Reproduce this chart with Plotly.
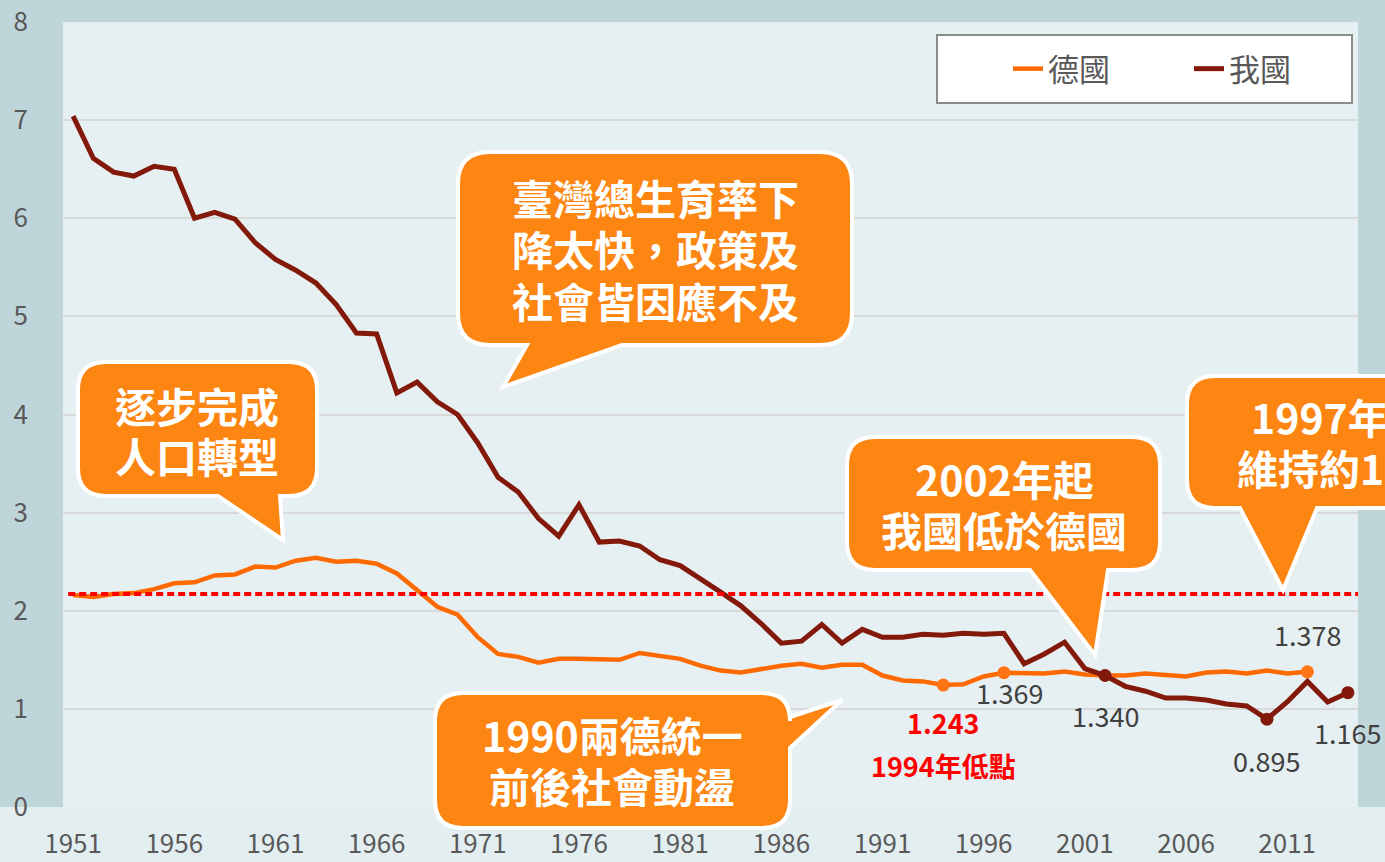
import plotly.graph_objects as go

# total fertility rate, Taiwan (我國) 1951-2014 and Germany (德國) 1951-2012
years = list(range(1951, 2015))
taiwan = [7.04, 6.61, 6.47, 6.43, 6.53, 6.50, 6.00, 6.06, 5.99, 5.75,
          5.58, 5.47, 5.34, 5.12, 4.83, 4.82, 4.22, 4.33, 4.13, 4.00,
          3.71, 3.36, 3.21, 2.94, 2.76, 3.08, 2.70, 2.71, 2.66, 2.52,
          2.46, 2.33, 2.19, 2.05, 1.87, 1.67, 1.69, 1.86, 1.67, 1.81,
          1.73, 1.73, 1.76, 1.75, 1.77, 1.76, 1.77, 1.46, 1.56, 1.68,
          1.41, 1.340, 1.23, 1.18, 1.11, 1.11, 1.09, 1.05, 1.03, 0.895,
          1.07, 1.28, 1.07, 1.165]
germany = [2.16, 2.14, 2.17, 2.18, 2.22, 2.28, 2.29, 2.36, 2.37, 2.45,
           2.44, 2.51, 2.54, 2.50, 2.51, 2.48, 2.38, 2.21, 2.04, 1.96,
           1.73, 1.56, 1.53, 1.47, 1.51, 1.51, 1.50, 1.50, 1.57, 1.54,
           1.51, 1.44, 1.39, 1.37, 1.41, 1.44, 1.46, 1.42, 1.45, 1.45,
           1.34, 1.29, 1.28, 1.243, 1.25, 1.33, 1.369, 1.36, 1.36, 1.38,
           1.35, 1.34, 1.34, 1.36, 1.34, 1.33, 1.37, 1.38, 1.36, 1.39,
           1.36, 1.378]
germany_years = years[:len(germany)]
germany_marks = [1994, 1997, 2012]
taiwan_marks = [2002, 2010, 2014]
replacement_level = 2.17
tick_years = list(range(1951, 2015, 5))

FONT = "Noto Sans CJK TC"
ORANGE_LINE = "#ff6a00"
DARK_RED = "#82190a"
CALLOUT = "#fd8512"

# plot area in pixels (for placing the speech bubbles)
W, H = 1385, 862
L, R, T, B = 63, 1358, 22, 807


def px(x, y):
    return (x - L) / (R - L), (B - y) / (B - T)


def bubble(x0, y0, x1, y1, r, side, tail):
    """rounded box with a pointer, built in pixels and converted to paper coords"""
    pts = [("M", [(x0 + r, y0)]), ("L", [(x1 - r, y0)]), ("Q", [(x1, y0), (x1, y0 + r)])]
    if side == "right":
        pts += [("L", [p]) for p in tail]
    pts += [("L", [(x1, y1 - r)]), ("Q", [(x1, y1), (x1 - r, y1)])]
    if side == "bottom":
        pts += [("L", [p]) for p in tail]
    pts += [("L", [(x0 + r, y1)]), ("Q", [(x0, y1), (x0, y1 - r)]),
            ("L", [(x0, y0 + r)]), ("Q", [(x0, y0), (x0 + r, y0)])]
    d = ""
    for cmd, ps in pts:
        d += cmd + " " + " ".join("%.5f,%.5f" % px(*p) for p in ps) + " "
    return dict(type="path", path=d + "Z", xref="paper", yref="paper",
                fillcolor=CALLOUT, line=dict(color="white", width=4), layer="above")


fig = go.Figure()
fig.add_trace(go.Scatter(x=germany_years, y=germany, mode="lines", name="德國",
                         line=dict(color=ORANGE_LINE, width=4.5)))
fig.add_trace(go.Scatter(x=years, y=taiwan, mode="lines", name="我國",
                         line=dict(color=DARK_RED, width=5)))
fig.add_trace(go.Scatter(x=germany_marks, y=[germany[germany_years.index(y)] for y in germany_marks],
                         mode="markers", showlegend=False, marker=dict(color="#ff7414", size=13)))
fig.add_trace(go.Scatter(x=taiwan_marks, y=[taiwan[years.index(y)] for y in taiwan_marks],
                         mode="markers", showlegend=False, marker=dict(color=DARK_RED, size=13)))

shapes = [
    # light strip under the plot
    dict(type="rect", xref="paper", yref="paper", x0=px(0, 0)[0], x1=px(W, 0)[0],
         y0=px(0, H)[1], y1=0, fillcolor="#e3eef1", line=dict(width=0), layer="below"),
    # legend box
    dict(type="rect", xref="paper", yref="paper", x0=px(937, 0)[0], x1=px(1352, 0)[0],
         y0=px(0, 103)[1], y1=px(0, 35)[1], fillcolor="white",
         line=dict(color="#8c8c8c", width=2), layer="above"),
    dict(type="line", xref="paper", yref="y", x0=0.004, x1=1, y0=replacement_level, y1=replacement_level,
         line=dict(color="#ff0000", width=4, dash="7px,4px"), layer="above"),
    bubble(458, 152, 852, 345, 32, "bottom", [(622, 345), (503, 387), (527, 345)]),
    bubble(78, 362, 317, 496, 28, "bottom", [(280, 496), (283, 540), (218, 496)]),
    bubble(435, 693, 790, 828, 28, "right", [(790, 717), (842, 700), (790, 748)]),
    bubble(847, 437, 1160, 570, 28, "bottom", [(1108, 570), (1095, 655), (1030, 570)]),
    bubble(1187, 376, 1440, 508, 28, "bottom", [(1317, 508), (1283, 590), (1240, 508)]),
]

annotations = []
# bubble text, one annotation per line: (text, x, y, anchor)
callout_lines = [
    ("臺灣總生育率下", 655, 197, "center"), ("降太快，政策及", 655, 248, "center"),
    ("社會皆因應不及", 655, 300, "center"),
    ("逐步完成", 197, 405, "center"), ("人口轉型", 197, 455, "center"),
    ("1990兩德統一", 612, 734, "center"), ("前後社會動盪", 612, 785, "center"),
    ("2002年起", 1004, 478, "center"), ("我國低於德國", 1004, 529, "center"),
    ("1997年後", 1249, 416, "left"), ("維持約1.4", 1235, 467, "left"),
]
for text, cx, cy, anchor in callout_lines:
    xp, yp = px(cx, cy)
    annotations.append(dict(text=text, x=xp, y=yp, xref="paper", yref="paper", showarrow=False,
                            xanchor=anchor, yanchor="middle", height=46, valign="middle",
                            font=dict(family=FONT, size=41, color="white", weight="bold")))

# value labels: (series, year, xshift, yshift, color, bold)
labels = [
    ("de", 1994, 0, -37, "#ff0000", True),
    ("de", 1997, 6, -20, "#404040", False),
    ("tw", 2002, 0, -40, "#404040", False),
    ("de", 2012, 0, 37, "#404040", False),
    ("tw", 2010, 0, -41, "#404040", False),
    ("tw", 2014, 0, -40, "#404040", False),
]
for series, yr, dx, dy, color, bold in labels:
    val = germany[germany_years.index(yr)] if series == "de" else taiwan[years.index(yr)]
    annotations.append(dict(text="%.3f" % val, x=yr, y=val, xref="x", yref="y", showarrow=False,
                            xshift=dx, yshift=dy, font=dict(family=FONT, size=27, color=color,
                                                            weight="bold" if bold else "normal")))
annotations.append(dict(text="1994年低點", x=1994, y=germany[germany_years.index(1994)], xref="x", yref="y",
                        showarrow=False, yshift=-80,
                        font=dict(family=FONT, size=27, color="#ff0000", weight="bold")))

fig.update_layout(
    width=W, height=H,
    margin=dict(l=L, r=W - R, t=T, b=H - B),
    paper_bgcolor="#bed6da",
    plot_bgcolor="#e6f0f2",
    font=dict(family=FONT, color="#595959"),
    shapes=shapes,
    annotations=annotations,
    legend=dict(orientation="h", x=px(1008, 0)[0], y=px(0, 69)[1], xanchor="left", yanchor="middle",
                bgcolor="rgba(0,0,0,0)", font=dict(size=31, color="#595959"),
                entrywidth=136, entrywidthmode="pixels"),
)
fig.update_xaxes(range=[1950.5, 2014.5], tickvals=tick_years, showgrid=False, zeroline=False,
                 showline=False, ticks="", ticklabelstandoff=19, automargin=False,
                 tickfont=dict(size=26, color="#595959"))
fig.update_yaxes(range=[0, 8], dtick=1, showgrid=True, gridcolor="#d9d9d9", gridwidth=2,
                 zeroline=False, showline=False, ticks="", ticklabelstandoff=34, automargin=False,
                 tickfont=dict(size=26, color="#595959"))

fig.write_html("out.html", config={"displayModeBar": False},
               post_script="document.body.style.margin='0';")
